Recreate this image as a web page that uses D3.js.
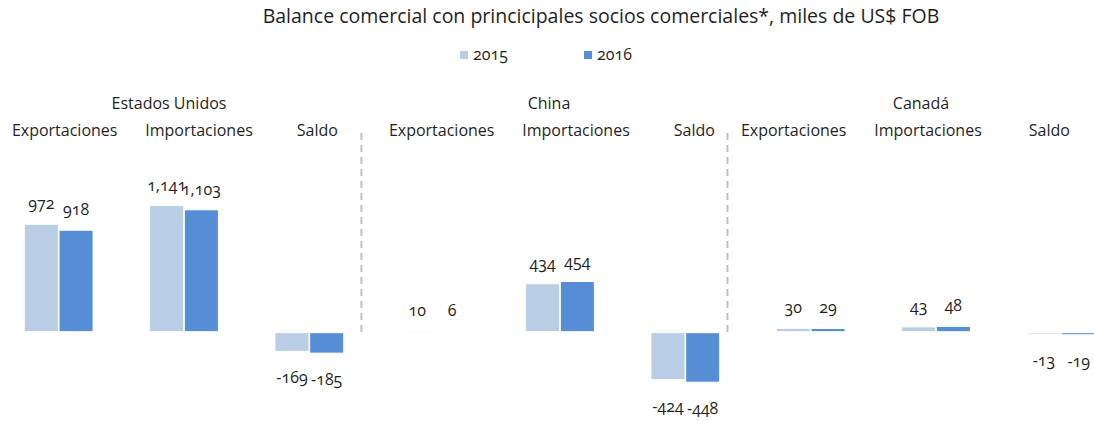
<!DOCTYPE html>
<html lang="es">
  <head>
    <meta charset="UTF-8" />
    <title>Balance comercial</title>
    <style>
      body {
        margin: 0;
        background: #fff;
      }
      text {
        font-family: "Open Sans", sans-serif;
        fill: #1f1f1f;
        font-variant-numeric: oldstyle-nums;
      }
      .bar {
        stroke: #fff;
        stroke-width: 1;
      }
      .sep {
        stroke: #c0c0c0;
        stroke-width: 2;
        stroke-dasharray: 7 5;
      }
    </style>
  </head>
  <body>
    <svg id="chart" width="1094" height="421"></svg>
  </body>
  <script src="https://cdn.jsdelivr.net/npm/d3@7"></script>
  <script>
    // data
    const countries = ["Estados Unidos", "China", "Canadá"];
    const flows = ["Exportaciones", "Importaciones", "Saldo"];
    const years = ["2015", "2016"];
    const values2015 = [972, 1141, -169, 10, 434, -424, 30, 43, -13];
    const values2016 = [918, 1103, -185, 6, 454, -448, 29, 48, -19];
    const colors = ["#b9cde5", "#558ed5"];

    // layout tweaks (labels were placed by hand in the original)
    const flowLabelShift = [6, 15, 8, 7, 16, 9, -17, -8, -12];
    const countryLabelShift = [-15, -11, -15];
    const sepShift = [17, 7];

    let svg = d3.select("#chart");

    // one category per country + flow
    let cats = [];
    countries.forEach((c, i) =>
      flows.forEach((f, j) => cats.push({ country: c, flow: f, idx: i * 3 + j }))
    );

    let x0 = d3
      .scaleBand()
      .domain(cats.map((d) => d.idx))
      .range([-4, 1124])
      .paddingInner(0.44)
      .paddingOuter(0.22);

    let x1 = d3.scaleBand().domain(years).range([0, x0.bandwidth()]).padding(0.02);

    let yScale = d3.scaleLinear().domain([-600, 1300]).range([398, 188]);

    // plain hyphen for negatives, comma thousands
    let fmt = d3
      .formatLocale({ decimal: ".", thousands: ",", grouping: [3], currency: ["$", ""], minus: "-" })
      .format(",");

    // title
    svg
      .append("text")
      .attr("x", 601)
      .attr("y", 23)
      .attr("text-anchor", "middle")
      .style("font-size", "19.5px")
      .text("Balance comercial con princicipales socios comerciales*, miles de US$ FOB");

    // legend
    let legend = svg
      .selectAll(".legend")
      .data(years)
      .enter()
      .append("g")
      .attr("class", "legend")
      .attr("transform", (d, i) => "translate(" + (460 + i * 124) + ",51)");
    legend
      .append("rect")
      .attr("width", 8)
      .attr("height", 8)
      .attr("fill", (d, i) => colors[i]);
    legend
      .append("text")
      .attr("x", 13)
      .attr("y", 9)
      .style("font-size", "16px")
      .text((d) => d);

    // country headers
    svg
      .selectAll(".country")
      .data(countries)
      .enter()
      .append("text")
      .attr("class", "country")
      .attr("x", (d, i) => x0(i * 3 + 1) + x0.bandwidth() / 2 + countryLabelShift[i])
      .attr("y", 109)
      .attr("text-anchor", "middle")
      .style("font-size", "16px")
      .text((d) => d);

    // flow headers
    svg
      .selectAll(".flow")
      .data(cats)
      .enter()
      .append("text")
      .attr("class", "flow")
      .attr("x", (d) => x0(d.idx) + x0.bandwidth() / 2 + flowLabelShift[d.idx])
      .attr("y", 136)
      .attr("text-anchor", "middle")
      .style("font-size", "16px")
      .text((d) => d.flow);

    // dashed separators between countries
    svg
      .selectAll(".sep")
      .data([2, 5])
      .enter()
      .append("line")
      .attr("class", "sep")
      .attr("x1", (d, i) => x0(d) + x0.bandwidth() + sepShift[i])
      .attr("x2", (d, i) => x0(d) + x0.bandwidth() + sepShift[i])
      .attr("y1", 133)
      .attr("y2", yScale(0) + 2);

    // bars
    let series = [values2015, values2016];
    let groups = svg
      .selectAll(".cat")
      .data(cats)
      .enter()
      .append("g")
      .attr("class", "cat")
      .attr("transform", (d) => "translate(" + x0(d.idx) + ",0)");

    let cells = groups
      .selectAll(".cell")
      .data((d) => years.map((y, k) => ({ year: y, k: k, v: series[k][d.idx] })))
      .enter();

    cells
      .append("rect")
      .attr("class", "bar")
      .attr("x", (d) => x1(d.year))
      .attr("width", x1.bandwidth())
      .attr("y", (d) => (d.v >= 0 ? yScale(d.v) : yScale(0) + 1))
      .attr("height", (d) => Math.abs(yScale(d.v) - yScale(0)))
      .attr("fill", (d) => colors[d.k]);

    cells
      .append("text")
      .attr("x", (d) => x1(d.year) + x1.bandwidth() / 2)
      .attr("y", (d) => (d.v >= 0 ? yScale(d.v) - 15 : yScale(d.v) + 33))
      .attr("text-anchor", "middle")
      .style("font-size", "16px")
      .text((d) => fmt(d.v));
  </script>
</html>
